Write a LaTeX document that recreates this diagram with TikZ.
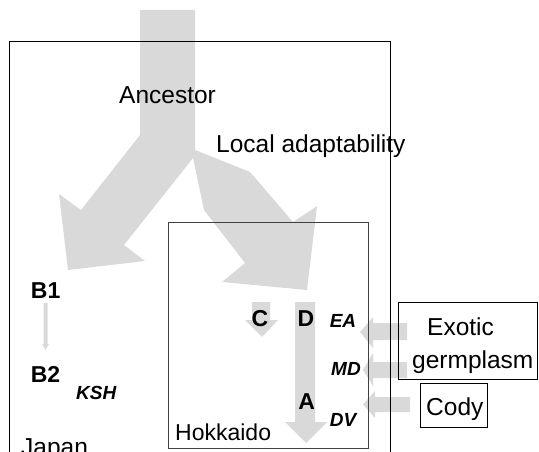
\documentclass[tikz,border=0pt]{standalone}
\usepackage{fontspec}
\setmainfont{Liberation Sans}
\definecolor{arrowgray}{HTML}{D9D9D9}
\definecolor{framegray}{HTML}{404040}
\begin{document}
\begin{tikzpicture}[x=1pt,y=-1pt,
  flow/.style={fill=arrowgray,draw=none},
  lbl/.style={inner sep=0pt,font=\fontsize{24.5}{28}\selectfont},
  bigletter/.style={inner sep=0pt,font=\fontsize{23}{26}\selectfont\bfseries},
  gene/.style={inner sep=0pt,font=\fontsize{19}{23}\selectfont\bfseries\itshape},
  frame/.style={draw=black,line width=0.9pt},
  subframe/.style={draw=framegray,line width=0.9pt}]
\useasboundingbox (0,0) rectangle (539,452);
\clip (0,0) rectangle (539,452);
% big branching arrow
\fill[flow] (140,10) -- (195,10) -- (195,150) -- (250,172) -- (293,222) -- (317,206)
  -- (307,290) -- (222,282) -- (245,263) -- (204,210) -- (193,158) -- (124,245)
  -- (145,261) -- (68,270) -- (59,194) -- (81,210) -- (140,135) -- cycle;
% C arrow
\fill[flow] (252,302) -- (270,302) -- (270,320) -- (278,320) -- (262,337) -- (245,320) -- (252,320) -- cycle;
% D-A arrow
\fill[flow] (295,302) -- (315,302) -- (315,422) -- (327,422) -- (306,443) -- (285,422) -- (295,422) -- cycle;
% B1 -> B2 arrow
\fill[flow] (43.5,303) -- (47.5,303) -- (47.5,344) -- (49,344) -- (45.5,350) -- (42,344) -- (43.5,344) -- cycle;
% incoming arrows
\fill[flow] (407,323) -- (373,323) -- (373,317) -- (360,332) -- (373,348) -- (373,340) -- (407,340) -- cycle;
\fill[flow] (407,362) -- (373,362) -- (373,353) -- (363,370) -- (373,386) -- (373,378) -- (407,378) -- cycle;
\fill[flow] (410,397) -- (375,397) -- (375,391) -- (363,404.5) -- (375,418) -- (375,412) -- (410,412) -- cycle;
% frames
\draw[frame] (9.5,41) rectangle (390.5,470);
\draw[subframe] (168,222) rectangle (368,448);
\draw[frame] (398,302.5) rectangle (537,379);
\draw[frame] (420,383.5) rectangle (487,427);
% texts
\node[lbl, anchor=base west] (ancestor) at (119,103) {Ancestor};
\node[lbl, anchor=base west] (local) at (216,152.5) {Local adaptability};
\node[lbl, anchor=base west] (japan) at (21,455) {Japan};
\node[lbl, font=\fontsize{23}{27}\selectfont, anchor=base west] (hokkaido) at (175,440) {Hokkaido};
\node[lbl, anchor=base west] (exotic) at (427,335) {Exotic};
\node[lbl, anchor=base west] (germ) at (412,368) {germplasm};
\node[lbl, anchor=base west] (cody) at (426,415) {Cody};
\node[bigletter] (b1) at (45.7,290.3) {B1};
\node[bigletter] (b2) at (45.5,374) {B2};
\node[bigletter] (c) at (260,319) {C};
\node[bigletter] (d) at (306,319) {D};
\node[bigletter] (a) at (306.7,401.3) {A};
\node[gene] (ea) at (343,321) {EA};
\node[gene] (md) at (346,369) {MD};
\node[gene] (dv) at (343,420) {DV};
\node[gene] (ksh) at (96.3,392.8) {KSH};
\end{tikzpicture}
\end{document}
